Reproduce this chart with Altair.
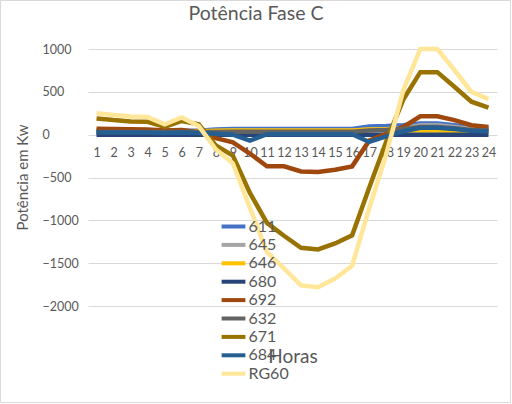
import altair as alt
import pandas as pd

# Hourly power on phase C, per bus (kW)
horas = list(range(1, 25))
series = ["611", "645", "646", "680", "692", "632", "671", "684", "RG60"]
cores = ["#4472C4", "#A5A5A5", "#FFC000", "#264478", "#9E480E",
         "#636363", "#997300", "#255E91", "#FFE699"]

p611 = [45, 45, 45, 45, 45, 45, 45, 60, 65, 65, 65, 65, 65, 65, 65, 65,
        95, 100, 110, 130, 130, 110, 85, 75]
p645 = [35, 35, 35, 35, 35, 35, 35, 40, 45, 45, 45, 45, 45, 45, 45, 45,
        60, 65, 75, 110, 110, 90, 65, 55]
p646 = [40, 40, 40, 40, 40, 40, 40, 45, 50, 50, 50, 50, 50, 50, 50, 50,
        60, 60, 50, 50, 50, 40, 30, 25]
p680 = [0, 0, 0, 0, 0, 0, 0, 0, 0, 0, 0, 0, 0, 0, 0, 0,
        0, 0, 0, 0, 0, 0, 0, 0]
p692 = [70, 65, 62, 60, 50, 55, 30, -40, -90, -220, -370, -370, -430, -435,
        -410, -370, -70, 10, 90, 215, 215, 170, 110, 90]
p632 = [30, 30, 30, 30, 30, 30, 30, 30, 35, 35, 35, 35, 35, 35, 35, 35,
        50, 55, 65, 90, 90, 75, 55, 45]
p671 = [190, 170, 155, 150, 90, 160, 120, -125, -245, -680, -1030, -1180,
        -1320, -1340, -1270, -1175, -620, -80, 410, 730, 730, 560, 385, 315]
p684 = [25, 25, 25, 25, 20, 25, 20, 10, 0, -70, 5, 5, 5, 5, 5, 5,
        -85, -20, 40, 80, 80, 65, 45, 40]
pRG60 = [250, 230, 212, 205, 120, 200, 100, -170, -335, -850, -1370, -1560,
         -1760, -1780, -1680, -1530, -860, -230, 520, 1000, 1000, 755, 500, 415]

valores = [p611, p645, p646, p680, p692, p632, p671, p684, pRG60]
y_ticks = [-2000, -1500, -1000, -500, 0, 500, 1000]
titulo = ["Potência Fase C"]

rows = []
for nome, vals in zip(series, valores):
    for h, v in zip(horas, vals):
        rows.append({"serie": nome, "hora": h, "valor": v})
df = pd.DataFrame(rows)

FONT = "Lato"
GREY = "#595959"

# wide short line used as the legend swatch
SWATCH = "M-1.7,0L1.7,0"

lines = alt.Chart(df).mark_line(strokeWidth=4.5).encode(
    x=alt.X("hora:Q",
            scale=alt.Scale(domain=[0.5, 24.5], nice=False, zero=False),
            axis=alt.Axis(values=horas, format="d", orient="bottom",
                          offset=-171.5, domain=False, ticks=False, grid=False,
                          labelPadding=18, labelBaseline="middle",
                          labelFontSize=12.5, labelColor=GREY, labelFont=FONT,
                          labelFlush=False, labelOverlap=False,
                          title="Horas", titleY=221.5, titleBaseline="middle",
                          titleFontSize=19, titleFontWeight="normal",
                          titleColor=GREY, titleFont=FONT)),
    y=alt.Y("valor:Q",
            scale=alt.Scale(domain=[-2000, 1000], nice=False),
            axis=alt.Axis(values=y_ticks, format="d", domain=False,
                          ticks=False, grid=True,
                          gridColor="#D9D9D9", gridWidth=1,
                          labelAlign="left", labelPadding=46,
                          labelBaseline="middle", labelFontSize=12.5,
                          labelColor=GREY, labelFont=FONT,
                          title="Potência em Kw", titleX=-66, titleY=128,
                          titleAngle=270, titleAlign="center",
                          titleBaseline="middle", titleFontSize=15,
                          titleFontWeight="normal", titleColor=GREY,
                          titleFont=FONT)),
    color=alt.Color("serie:N", sort=series,
                    scale=alt.Scale(domain=series, range=cores),
                    legend=alt.Legend(orient="none", legendX=136.5,
                                      legendY=168.5, title=None, padding=0,
                                      symbolType=SWATCH, symbolStrokeWidth=4,
                                      symbolSize=196, labelFontSize=16,
                                      labelColor=GREY, labelFont=FONT,
                                      labelOffset=6, rowPadding=1.4)),
)

# Chart heading, centred on the figure
heading = alt.Chart(pd.DataFrame({"titulo": titulo})).mark_text(
    font=FONT, fontSize=19.5, color=GREY, align="center", baseline="alphabetic"
).encode(text="titulo:N", x=alt.value(168), y=alt.value(-29.5))

# Thin frame around the whole figure
frame = alt.Chart(pd.DataFrame({"a": [0]})).mark_rect(
    fillOpacity=0, stroke="#D9D9D9", strokeWidth=1
).encode(
    x=alt.value(-87.5), x2=alt.value(422.5),
    y=alt.value(-48.5), y2=alt.value(353.5),
)

chart = alt.layer(lines, heading, frame).properties(
    width=409, height=257,
    autosize=alt.AutoSizeParams(type="none"),
    padding={"left": 88, "top": 49, "right": 15, "bottom": 98},
    background="white",
).configure_view(stroke=None)

chart.save("out.html", embed_options={"renderer": "svg", "actions": False})
